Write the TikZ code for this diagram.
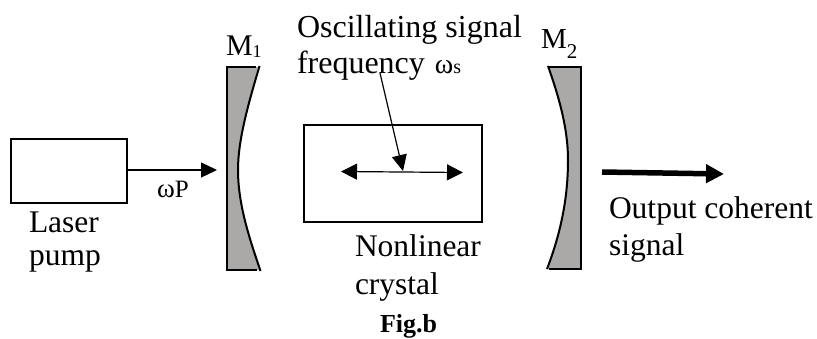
\documentclass[tikz,border=0pt]{standalone}
\usepackage{fontspec}
\setmainfont{Liberation Serif}
\usetikzlibrary{arrows.meta}
\newcommand{\lbl}{\fontsize{31.5}{32}\selectfont}
\newcommand{\szz}[1]{\fontsize{#1}{#1}\selectfont}
\definecolor{mirrorgrey}{HTML}{ABA8A8}
\tikzset{
  txt/.style={anchor=base west,inner sep=0pt,outer sep=0pt,font=\lbl},
  boxn/.style={draw=black,line width=1.8pt,inner sep=0pt,outer sep=0pt,minimum width=#1},
  mirrorfill/.style={fill=mirrorgrey},
  mirrorline/.style={draw=black,line width=2pt},
  thin arrow/.style={draw=black,line width=1.2pt,-{Triangle[length=16pt,width=15pt]}},
  both arrow/.style={draw=black,line width=1.2pt,{Triangle[length=16pt,width=16pt]}-{Triangle[length=16pt,width=16pt]}},
  thick arrow/.style={draw=black,line width=5.5pt,-{Triangle[length=18pt,width=18pt]}}
}
\begin{document}
\begin{tikzpicture}[x=1pt,y=-1pt]
\useasboundingbox (0,0) rectangle (817,338);
% boxes
\node[boxn=116pt,minimum height=64pt,anchor=north west] (laser) at (11,139) {};
\node[boxn=178pt,minimum height=97pt,anchor=north west] (crystal) at (304,125) {};
% mirror M1
\path[mirrorfill] (227,67) -- (258,67) .. controls (248,105) and (238,140) .. (238,170)
  .. controls (238,205) and (250,240) .. (259,270) -- (227,270) -- cycle;
\draw[mirrorline] (256,67) -- (227,67) -- (227,270) -- (257,270);
\draw[mirrorline] (259.5,66) .. controls (248,105) and (238,140) .. (238,170)
  .. controls (238,205) and (250,240) .. (260.5,271);
% mirror M2
\path[mirrorfill] (581,67) -- (549,67) .. controls (560,100) and (568,130) .. (568,160)
  .. controls (568,200) and (560,235) .. (548,269) -- (581,269) -- cycle;
\draw[mirrorline] (549,67) -- (581,67) -- (581,269) -- (549,269);
\draw[mirrorline] (548,66) .. controls (560,100) and (568,130) .. (568,160)
  .. controls (568,200) and (560,235) .. (547,269);
% coordinates
\coordinate (m1in) at (217,170);
\coordinate (dl) at (341,171.5);
\coordinate (dr) at (463,172.5);
\coordinate (ptr) at (403,171);
\coordinate (ptrtop) at (380,73);
\coordinate (outa) at (602,172);
\coordinate (outb) at (724,174);
% labels
\node[txt,font=\szz{30}] (m1) at (226,55) {M\raisebox{-2pt}{\szz{18}1}};
\node[txt,font=\szz{29}] (m2) at (541,48) {M\raisebox{-10pt}{\szz{21}2}};
\node[txt,font=\szz{32}] (osc) at (297,37) {Oscillating signal};
\node[txt,font=\szz{32}] (freq) at (297,73) {frequency\hspace{10pt}{\szz{28}ω}{\szz{20}s}};
\node[txt,font=\szz{27}] (omp) at (157,197) {ω\szz{25}P};
\node[txt] (l1) at (29,232) {Laser};
\node[txt] (l2) at (29,265) {pump};
\node[txt] (n1) at (355,256) {Nonlinear};
\node[txt] (n2) at (355,294) {crystal};
\node[txt] (o1) at (609,218) {Output coherent};
\node[txt] (o2) at (609,255) {signal};
\node[txt,font=\szz{26}\bfseries] (fig) at (380,332) {Fig.b};
% connectors
\draw[thin arrow] (laser.east |- m1in) -- (m1in);
\draw[both arrow] (dl) -- (dr);
\draw[thin arrow] (ptrtop) -- (ptr);
\draw[thick arrow] (outa) -- (outb);
\end{tikzpicture}
\end{document}
